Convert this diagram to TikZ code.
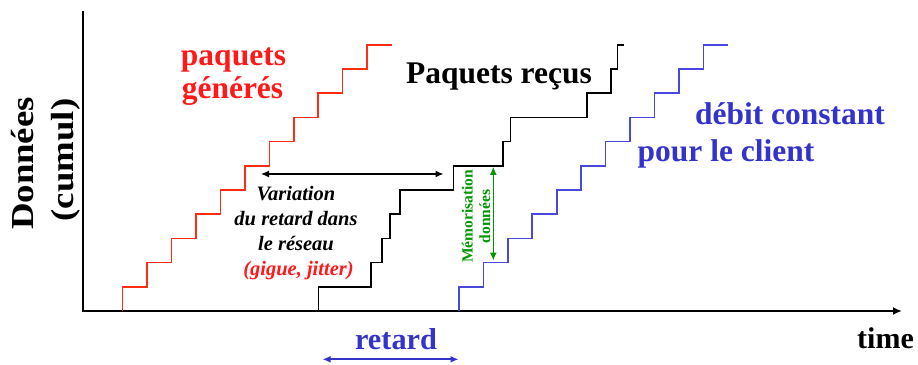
\documentclass[tikz,border=0pt]{standalone}
\usepackage{fontspec}
\setmainfont{Liberation Serif}
\usetikzlibrary{arrows.meta}
\definecolor{myred}{RGB}{255,25,25}
\definecolor{redline}{RGB}{255,45,20}
\definecolor{myblue}{RGB}{51,51,204}
\definecolor{blueline}{RGB}{72,72,222}
\definecolor{mygreen}{RGB}{0,150,0}
\begin{document}
\begin{tikzpicture}[x=1pt,y=-1pt,
  lbl/.style={inner sep=0pt,anchor=base},
  big/.style={lbl,font=\bfseries\fontsize{31.5}{36}\selectfont},
  var/.style={lbl,font=\bfseries\itshape\fontsize{20.5}{24}\selectfont},
  memo/.style={lbl,rotate=90,text=mygreen,font=\bfseries\fontsize{15.5}{18}\selectfont},
  stair/.style={line width=1.6pt,line join=miter},
  dbl/.style={line width=1.3pt,{Latex[length=8pt,width=7pt]}-{Latex[length=8pt,width=7pt]}}]
\useasboundingbox (0,0) rectangle (918,364);
% axes
\coordinate (ytop) at (82.7,10.7);
\coordinate (origin) at (82.7,311);
\coordinate (xend) at (902,311);
\draw[line width=2.2pt] (ytop) -- (origin);
\draw[line width=2.6pt,-{Latex[length=9pt,width=8pt]}] ([xshift=-1.1pt]origin) -- (xend);
% staircases
\draw[stair,redline] (122.6,311) \foreach \k in {1,...,11} { -- ({122.6+24.45*(\k-1)},{311-24.2*\k}) -- ({122.6+24.45*\k},{311-24.2*\k}) };
\draw[stair,blueline] (459,311) \foreach \k in {1,...,11} { -- ({459+24.43*(\k-1)},{311-24.2*\k}) -- ({459+24.43*\k},{311-24.2*\k}) };
\draw[stair,black] (318.3,311) -- (318.3,286.8) -- (370.7,286.8) -- (370.7,262.6) -- (381.7,262.6) -- (381.7,238.4) -- (390,238.4) -- (390,214.2) -- (400,214.2) -- (400,190) -- (453.3,190) -- (453.3,165.8) -- (502.7,165.8) -- (502.7,141.6) -- (510.3,141.6) -- (510.3,117.4) -- (587,117.4) -- (587,93.2) -- (610.7,93.2) -- (610.7,69) -- (617.3,69) -- (617.3,44.8) -- (624,44.8);
% labels
\node[big,text=myred] (pq1) at (233.5,65) {paquets};
\node[big,text=myred] (pq2) at (232.5,98) {générés};
\node[big,text=black] (recus) at (499,83) {Paquets reçus};
\node[big,text=myblue] (deb1) at (790,124.3) {débit constant};
\node[big,text=myblue] (deb2) at (726,161) {pour le client};
\node[lbl,rotate=90,font=\bfseries\fontsize{32}{36}\selectfont] (don1) at (33,163.5) {\scalebox{1.15}[1]{Données}};
\node[lbl,rotate=90,font=\bfseries\fontsize{32}{36}\selectfont] (don2) at (73,160) {\scalebox{1.15}[1]{(cumul)}};
\node[big,font=\bfseries\fontsize{30}{34}\selectfont] (time) at (885.5,348) {time};
\node[big,text=myblue,font=\bfseries\fontsize{30.3}{34}\selectfont] (retard) at (396,349) {retard};
% variation text
\node[var] (v1) at (296,200) {Variation};
\node[var] (v2) at (296,225) {du retard dans};
\node[var] (v3) at (296,250) {le réseau};
\node[var,text=myred] (v4) at (298.5,275) {(gigue, jitter)};
% memorisation
\node[memo] (m1) at (472.7,216.5) {Mémorisation};
\node[memo] (m2) at (490,216.5) {données};
% arrows
\coordinate (va) at (261,174);
\coordinate (vb) at (443.5,174);
\draw[dbl,black] (va) -- (vb);
\coordinate (ga) at (493.3,166.8);
\coordinate (gb) at (493.3,260.5);
\draw[dbl,mygreen] (ga) -- (gb);
\coordinate (ra) at (322.5,359.3);
\coordinate (rb) at (458.5,359.3);
\draw[dbl,myblue,line width=1.8pt] (ra) -- (rb);
\end{tikzpicture}
\end{document}
